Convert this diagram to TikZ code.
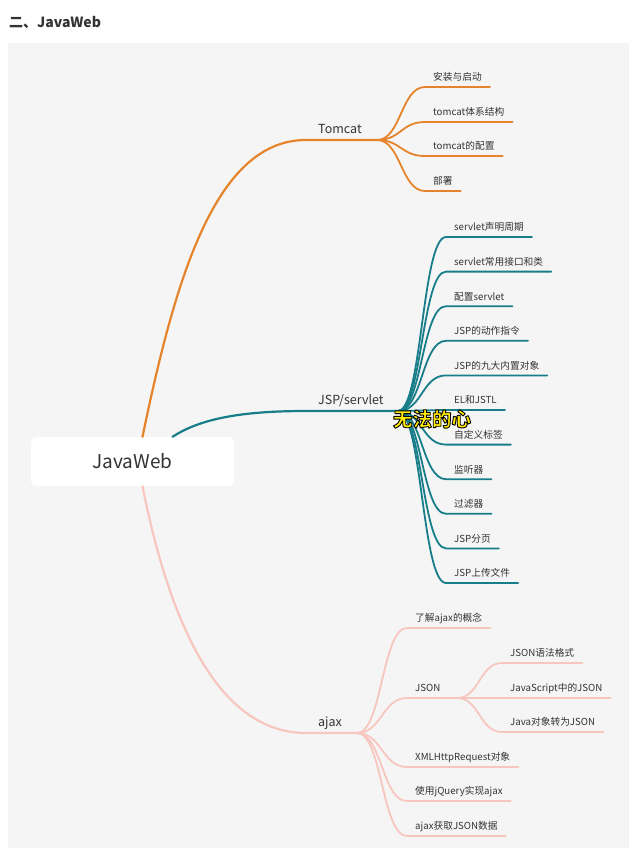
\documentclass[tikz,border=0pt]{standalone}
\usepackage{fontspec}
\setmainfont{Noto Sans CJK SC}
\usetikzlibrary{calc}
\definecolor{bgp}{HTML}{F5F5F5}
\definecolor{txt}{HTML}{333333}
\definecolor{cO}{HTML}{E5842B}
\definecolor{cT}{HTML}{177E89}
\definecolor{cP}{HTML}{F7C6BE}
\definecolor{wmy}{HTML}{FFEA00}
% outlined text: fill yellow, stroke black (PDF text render mode 2)
\newcommand{\wmark}[1]{{\color{wmy}\special{pdf:literal direct 0 0 0 RG 0.9 w 1 j 2 Tr}#1\special{pdf:literal direct 0 Tr}}}
% curved branch from a point to the underline of a node
\newcommand{\brc}[3]{\draw[#1] let \p1=(#2), \p2=(#3.south west) in (\p1) .. controls ({0.5*\x1+0.5*\x2},\y1) and ({0.5*\x1+0.5*\x2},\y2) .. (\p2) -- (#3.south east);}
\begin{document}
\begin{tikzpicture}[x=1pt,y=-1pt,
 leaf/.style={anchor=south west, inner xsep=8pt, inner ysep=3.5pt, font=\fontsize{9.7}{11}\selectfont, text=txt, text height=7.5pt, text depth=2.5pt},
 mainn/.style={anchor=south west, inner xsep=12pt, inner ysep=4pt, font=\fontsize{12.5}{14}\selectfont, text=txt, text height=9.5pt, text depth=2.5pt},
 sub/.style={line width=1.8pt, line cap=round},
 mainl/.style={line width=2.2pt, line cap=round}
]
\useasboundingbox (0,0) rectangle (640,850);
\fill[white] (0,0) rectangle (640,850);
\fill[bgp] (8,43) rectangle (629,848);

\node[anchor=west, font=\fontsize{14}{16}\selectfont\bfseries, text=txt, inner sep=0] (hd) at (9,22) {二、JavaWeb};

% root
\node[fill=white, rounded corners=5pt, minimum width=203pt, minimum height=49pt, font=\fontsize{19}{22}\selectfont, text=txt] (root) at (132.5,461.5) {JavaWeb};
\coordinate (r1) at ([xshift=10pt]root.north);
\coordinate (r2) at ([xshift=40pt]root.north);
\coordinate (r3) at ([xshift=10pt]root.south);

% main nodes
\node[mainn] (tom) at (306,140) {Tomcat};
\node[mainn] (jsp) at (306,411) {JSP/servlet};
\node[mainn] (ajx) at (306,733) {ajax};
\coordinate (tb) at (377,140);
\coordinate (jb) at (398,411);
\coordinate (ab) at (357,733);

% Tomcat children
\node[leaf] (t1) at (425,87) {安装与启动};
\node[leaf] (t2) at (425,122) {tomcat体系结构};
\node[leaf] (t3) at (425,156) {tomcat的配置};
\node[leaf] (t4) at (425,191) {部署};

% JSP children
\node[leaf] (j1) at (446,237) {servlet声明周期};
\node[leaf] (j2) at (446,271.6) {servlet常用接口和类};
\node[leaf] (j3) at (446,306.2) {配置servlet};
\node[leaf] (j4) at (446,340.8) {JSP的动作指令};
\node[leaf] (j5) at (446,375.4) {JSP的九大内置对象};
\node[leaf] (j6) at (446,410) {EL和JSTL};
\node[leaf] (j7) at (446,444.6) {自定义标签};
\node[leaf] (j8) at (446,479.2) {监听器};
\node[leaf] (j9) at (446,513.8) {过滤器};
\node[leaf] (j10) at (446,548.4) {JSP分页};
\node[leaf] (j11) at (446,583) {JSP上传文件};

% ajax children
\node[leaf] (a1) at (407,628) {了解ajax的概念};
\node[leaf] (a2) at (407,698) {JSON};
\node[leaf] (a3) at (407,767) {XMLHttpRequest对象};
\node[leaf] (a4) at (407,801) {使用jQuery实现ajax};
\node[leaf] (a5) at (407,836) {ajax获取JSON数据};
\coordinate (sb) at (457,698);
\node[leaf] (s1) at (502,663) {JSON语法格式};
\node[leaf] (s2) at (502,698) {JavaScript中的JSON};
\node[leaf] (s3) at (502,732) {Java对象转为JSON};

% main connectors
\draw[mainl,cO] (r1) .. controls (175,280) and (215,140) .. (tom.south west) -- (tb);
\draw[mainl,cT] (r2) .. controls (200,419) and (240,411) .. (jsp.south west) -- (jb);
\draw[mainl,cP] (r3) .. controls (175,650) and (230,733) .. (ajx.south west) -- (ab);

% child connectors
\brc{sub,cO}{tb}{t1}\brc{sub,cO}{tb}{t2}\brc{sub,cO}{tb}{t3}\brc{sub,cO}{tb}{t4}
\brc{sub,cT}{jb}{j1}\brc{sub,cT}{jb}{j2}\brc{sub,cT}{jb}{j3}\brc{sub,cT}{jb}{j4}
\brc{sub,cT}{jb}{j5}\brc{sub,cT}{jb}{j6}\brc{sub,cT}{jb}{j7}\brc{sub,cT}{jb}{j8}
\brc{sub,cT}{jb}{j9}\brc{sub,cT}{jb}{j10}\brc{sub,cT}{jb}{j11}
\brc{sub,cP}{ab}{a1}\brc{sub,cP}{ab}{a2}\brc{sub,cP}{ab}{a3}\brc{sub,cP}{ab}{a4}\brc{sub,cP}{ab}{a5}
\draw[sub,cP] (a2.south east) -- (sb);
\brc{sub,cP}{sb}{s1}\brc{sub,cP}{sb}{s2}\brc{sub,cP}{sb}{s3}

% watermark
\node[font=\fontsize{19.5}{22}\selectfont\bfseries, inner sep=0] (wm) at (432,419) {\wmark{无法的心}};
\end{tikzpicture}
\end{document}
